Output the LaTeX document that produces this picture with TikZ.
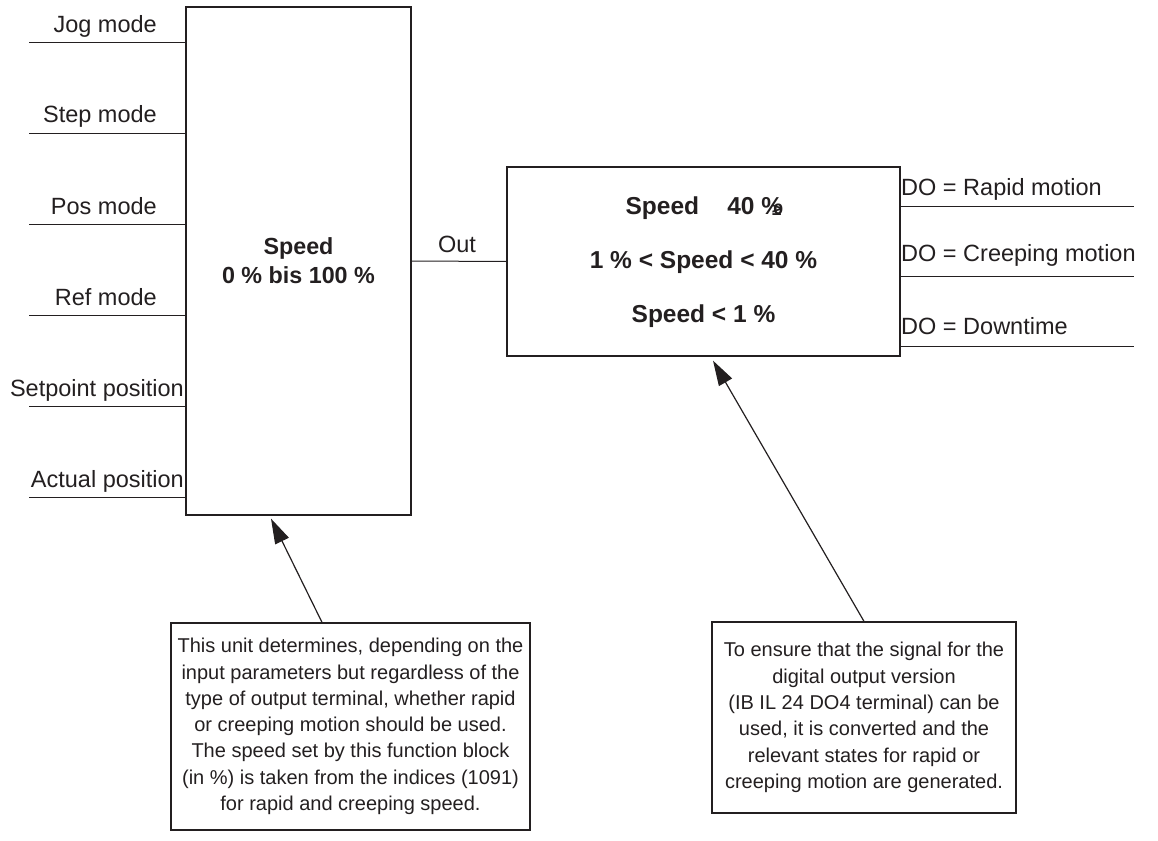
\documentclass[tikz,border=0pt]{standalone}
\usepackage{fontspec}
\setmainfont{Liberation Sans}
\usepackage{tikz}
\usetikzlibrary{arrows.meta,positioning}
\definecolor{lineblack}{RGB}{35,31,32}
\tikzstyle{block} = [rectangle, draw=lineblack, line width=1.3pt, inner sep=0pt, text=lineblack]
\tikzstyle{note} = [rectangle, draw=lineblack, line width=1.3pt, inner sep=0pt, align=center, text=lineblack, font=\fontsize{20}{26.3}\selectfont]
\tikzstyle{arrow} = [line width=1.2pt, draw=lineblack, -{Triangle[length=25pt,width=15pt]}]
\tikzstyle{sigline} = [line width=1pt, draw=lineblack]
\tikzstyle{siglabel} = [inner sep=0pt, text=lineblack, font=\fontsize{23.5}{28}\selectfont]
\tikzstyle{boldtext} = [inner sep=0pt, text=lineblack, font=\bfseries\fontsize{24.5}{29}\selectfont]

\begin{document}
\begin{tikzpicture}[x=1pt,y=-1pt]
\useasboundingbox (0,0) rectangle (1158,840);
% Blocks
\node (speed) [block, minimum width=225pt, minimum height=508pt, align=center, font=\bfseries\fontsize{23.3}{29}\selectfont] at (298.5,261) {Speed\\0 \% bis 100 \%};
\node (state) [block, minimum width=393pt, minimum height=189pt] at (703.5,261.5) {};
\node (statefast) [boldtext] at (703.5,208) {Speed\hspace{1.15em}40 \%\kern-0.45em\raisebox{-1pt}{\fontsize{17}{17}\selectfont ≥}};
\node (stateslow) [boldtext] at (703.5,262) {1 \% < Speed < 40 \%};
\node (statestop) [boldtext] at (703.5,316) {Speed < 1 \%};

% Inputs
\coordinate (jogin) at (29,43);
\coordinate (stepin) at (29,133);
\coordinate (posin) at (29,224);
\coordinate (refin) at (29,315);
\coordinate (setin) at (29,406);
\coordinate (actin) at (29,497);
\draw[sigline] (jogin) -- (jogin -| speed.west);
\draw[sigline] (stepin) -- (stepin -| speed.west);
\draw[sigline] (posin) -- (posin -| speed.west);
\draw[sigline] (refin) -- (refin -| speed.west);
\draw[sigline] (setin) -- (setin -| speed.west);
\draw[sigline] (actin) -- (actin -| speed.west);
\node (joglbl) [siglabel, anchor=base east] at (157,33) {Jog mode};
\node (steplbl) [siglabel, anchor=base east] at (157,123) {Step mode};
\node (poslbl) [siglabel, anchor=base east] at (157,214) {Pos mode};
\node (reflbl) [siglabel, anchor=base east] at (157,305) {Ref mode};
\node (setlbl) [siglabel, anchor=base east] at (184,396) {Setpoint position};
\node (actlbl) [siglabel, anchor=base east] at (184,487) {Actual position};

% Out
\draw[sigline] (speed.east) -- (state.west);
\node (outlbl) [siglabel, anchor=base] at (457,252.5) {Out};

% Outputs
\coordinate (fastout) at (1134,206);
\coordinate (slowout) at (1134,276);
\coordinate (stopout) at (1134,346);
\draw[sigline] (state.east |- fastout) -- (fastout);
\draw[sigline] (state.east |- slowout) -- (slowout);
\draw[sigline] (state.east |- stopout) -- (stopout);
\node (fastlbl) [siglabel, anchor=base west] at (901,195) {DO = Rapid motion};
\node (slowlbl) [siglabel, anchor=base west] at (901,261) {DO = Creeping motion};
\node (stoplbl) [siglabel, anchor=base west] at (901,334) {DO = Downtime};

% Notes
\node (leftnote) [note, minimum width=359pt, minimum height=207pt] at (350.5,726.5) {This unit determines, depending on the\\input parameters but regardless of the\\type of output terminal, whether rapid\\or creeping motion should be used.\\The speed set by this function block\\(in \%) is taken from the indices (1091)\\for rapid and creeping speed.};
\node (rightnote) [note, minimum width=304pt, minimum height=191pt] at (864,717.5) {To ensure that the signal for the\\digital output version\\(IB IL 24 DO4 terminal) can be\\used, it is converted and the\\relevant states for rapid or\\creeping motion are generated.};

% Arrows
\draw[arrow] ([xshift=-28.5pt]leftnote.north) -- ([xshift=-27.5pt,yshift=-3pt]speed.south);
\draw[arrow] (rightnote.north) -- ([xshift=9.5pt,yshift=-4pt]state.south);
\end{tikzpicture}
\end{document}
